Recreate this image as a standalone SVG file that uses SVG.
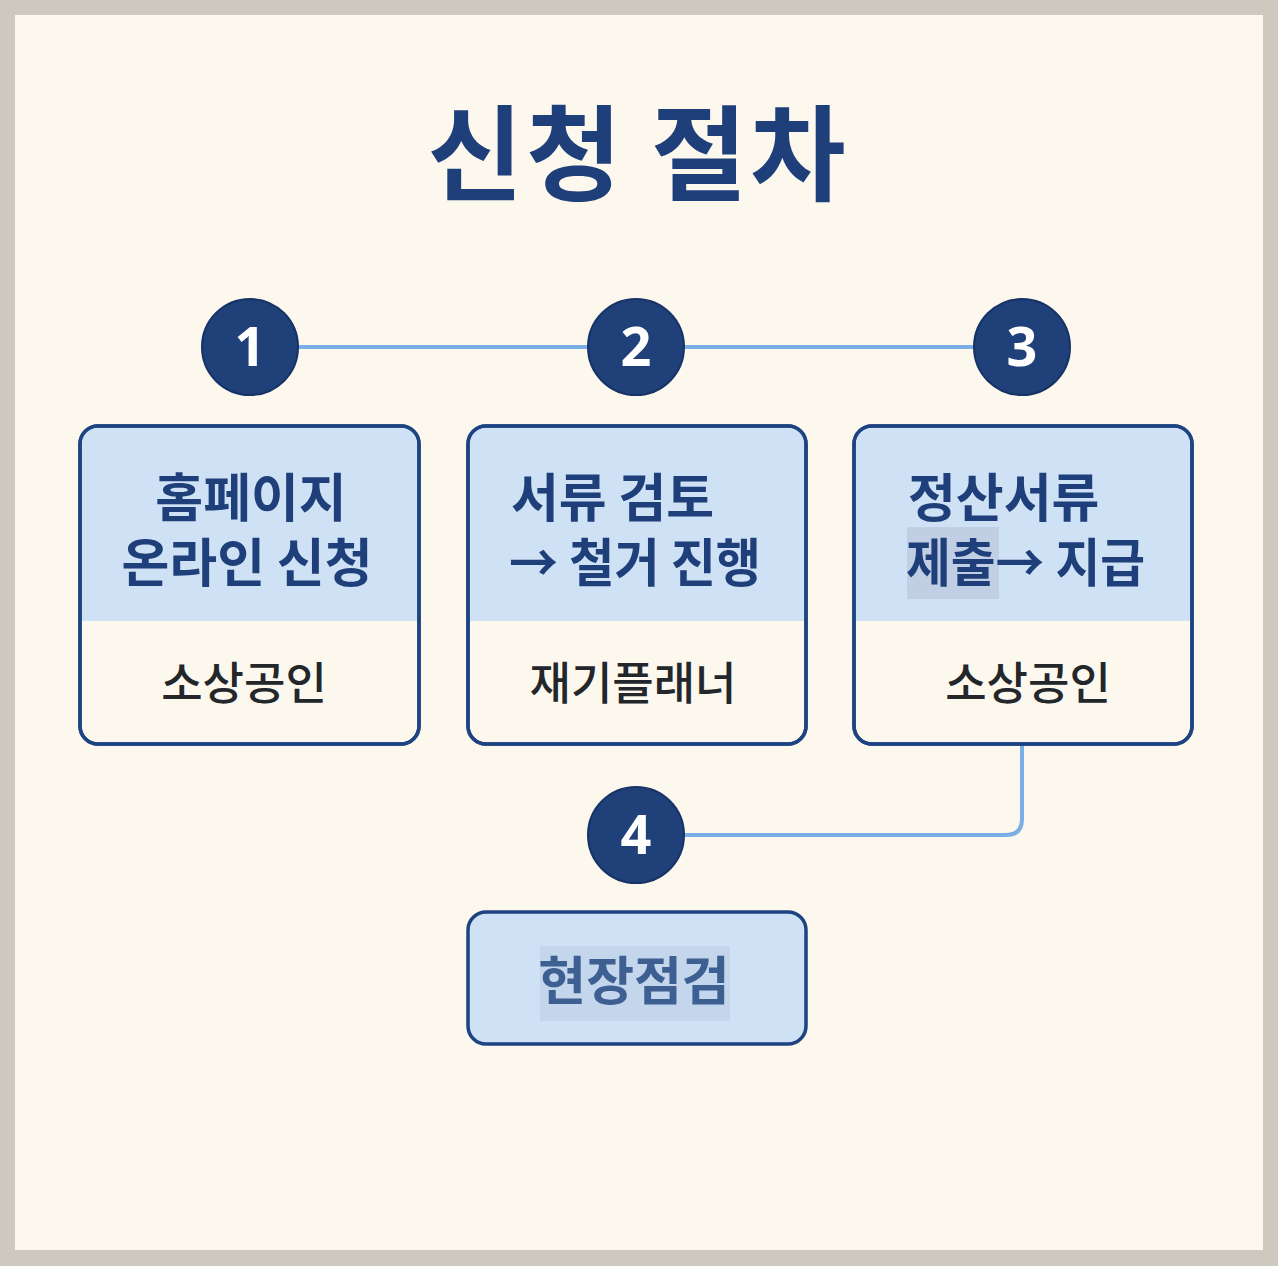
<svg xmlns="http://www.w3.org/2000/svg" width="1278" height="1266" viewBox="0 0 1278 1266">
<style>
.box{stroke:#1e4382;stroke-width:3.5;fill:#fdf8ee}
.top{fill:#cfe1f4}
.circ{fill:#1f4079;stroke:#173366;stroke-width:2}
.num{font-family:"Noto Sans","Liberation Sans",sans-serif;font-weight:700;font-size:54px;fill:#fff;text-anchor:middle}
.hd{font-family:"Noto Sans CJK KR","Noto Sans",sans-serif;font-weight:700;font-size:52px;fill:#1f3f7a}
.sub{font-family:"Noto Sans CJK KR","Noto Sans",sans-serif;font-weight:500;font-size:45px;fill:#23272b;text-anchor:middle}
.conn{fill:none;stroke:#7aaee6;stroke-width:4}
</style>
<rect x="0" y="0" width="1278" height="1266" fill="#cdc9c1"/>
<rect x="15" y="15" width="1248" height="1235" fill="#fdf8ee"/>
<text x="638" y="193" text-anchor="middle" font-family="Noto Sans CJK KR, Noto Sans, sans-serif" font-weight="700" font-size="104" letter-spacing="3" fill="#1f3f7a">신청 절차</text>
<g id="connectors">
<line class="conn" x1="298" y1="347" x2="974" y2="347"/>
<path class="conn" d="M1022 744 V819 Q1022 835 1006 835 H684"/>
</g>
<g id="step1">
<circle class="circ" cx="250" cy="347" r="48"/>
<text class="num" x="250" y="366">1</text>
</g>
<g id="step2">
<circle class="circ" cx="636" cy="347" r="48"/>
<text class="num" x="636" y="366">2</text>
</g>
<g id="step3">
<circle class="circ" cx="1022" cy="347" r="48"/>
<text class="num" x="1022" y="366">3</text>
</g>
<g id="step4">
<circle class="circ" cx="636" cy="835" r="48"/>
<text class="num" x="636" y="854">4</text>
</g>
<g id="box1">
<rect class="box" x="80" y="426" width="339" height="318" rx="18"/>
<path class="top" d="M98 428 H401 Q417 428 417 444 V621 H82 V444 Q82 428 98 428 Z"/>
<rect class="box" x="80" y="426" width="339" height="318" rx="18" style="fill:none"/>
<text class="hd" text-anchor="middle"><tspan x="251" y="517">홈페이지</tspan><tspan x="247" y="582">온라인 신청</tspan></text>
<text class="sub" x="244" y="700">소상공인</text>
</g>
<g id="box2">
<rect class="box" x="468" y="426" width="338" height="318" rx="18"/>
<path class="top" d="M486 428 H788 Q804 428 804 444 V621 H470 V444 Q470 428 486 428 Z"/>
<rect class="box" x="468" y="426" width="338" height="318" rx="18" style="fill:none"/>
<text class="hd"><tspan x="511" y="517">서류 검토</tspan><tspan x="509" y="582" textLength="252" lengthAdjust="spacingAndGlyphs">→ 철거 진행</tspan></text>
<text class="sub" x="633" y="700">재기플래너</text>
</g>
<g id="box3">
<rect class="box" x="854" y="426" width="338" height="318" rx="18"/>
<path class="top" d="M872 428 H1174 Q1190 428 1190 444 V621 H856 V444 Q856 428 872 428 Z"/>
<rect x="907" y="527" width="92" height="72" fill="#b9c8dc" opacity="0.7"/>
<rect class="box" x="854" y="426" width="338" height="318" rx="18" style="fill:none"/>
<text class="hd"><tspan x="908" y="517">정산서류</tspan><tspan x="906" y="582" textLength="239" lengthAdjust="spacingAndGlyphs">제출→ 지급</tspan></text>
<text class="sub" x="1028" y="700">소상공인</text>
</g>
<g id="box4">
<rect class="box" x="468" y="912" width="338" height="132" rx="18" style="fill:#cfe1f4"/>
<rect x="540" y="946" width="190" height="75" fill="#c4d6ec"/>
<text class="hd" x="634" y="1000" text-anchor="middle" style="fill:#3d5f92">현장점검</text>
</g>
</svg>
